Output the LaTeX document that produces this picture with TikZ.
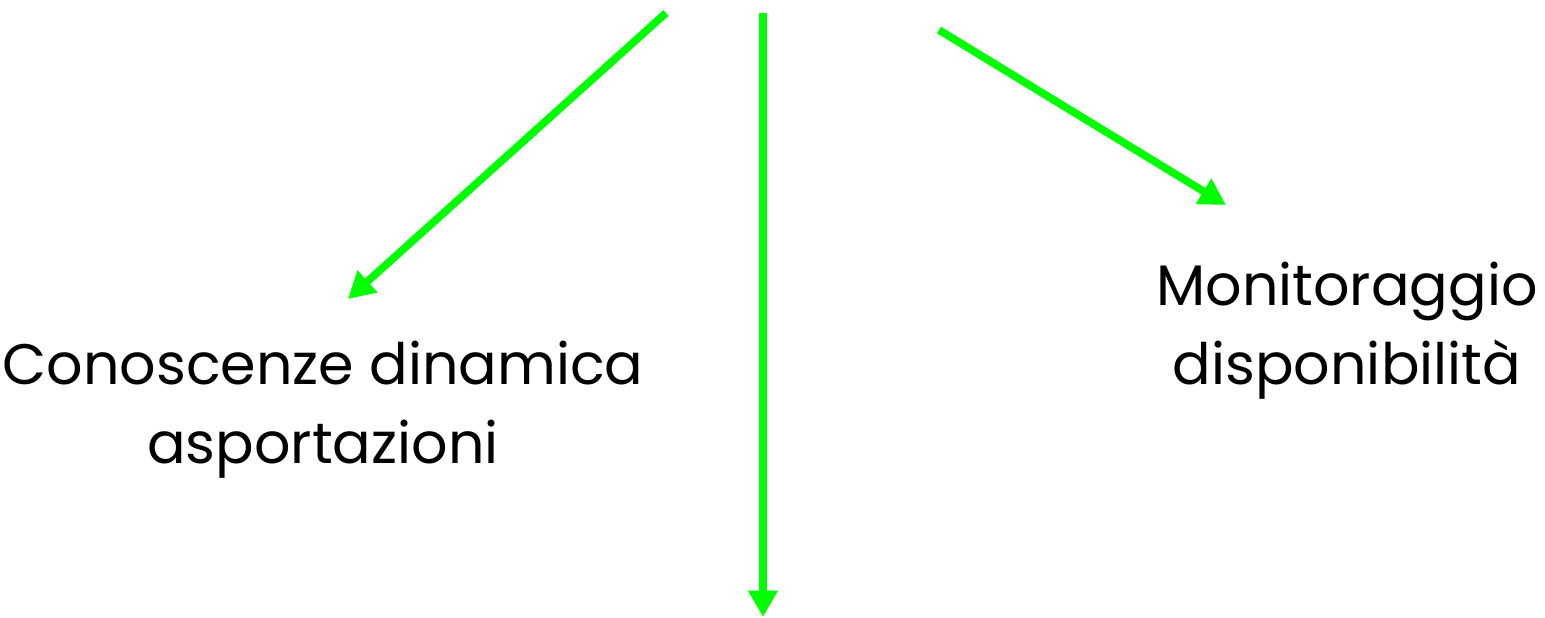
\documentclass[tikz,border=0pt]{standalone}
\usepackage{fontspec}
\setmainfont{Poppins}
\usetikzlibrary{arrows.meta}
\definecolor{arrowgreen}{RGB}{0,255,0}
\tikzset{
  greenarrow/.style={draw=arrowgreen, line width=4.4pt, -{Triangle[length=15pt,width=16pt]}},
  label/.style={font=\fontsize{32.5}{45}\selectfont, align=center, inner sep=0pt}
}
\begin{document}
\begin{tikzpicture}[x=0.02cm,y=-0.02cm]
\useasboundingbox (0,0) rectangle (1545,618);
\coordinate (s1) at (666,13);
\coordinate (e1) at (348,299);
\coordinate (s2) at (763,13);
\coordinate (e2) at (763,617);
\coordinate (s3) at (939,30);
\coordinate (e3) at (1226,205);
\draw[greenarrow] (s1) -- (e1);
\draw[greenarrow] (s2) -- (e2);
\draw[greenarrow] (s3) -- (e3);
\node[label] (left) at (323,410) {Conoscenze dinamica\\asportazioni};
\node[label] (right) at (1347,331) {Monitoraggio\\disponibilità};
\end{tikzpicture}
\end{document}
